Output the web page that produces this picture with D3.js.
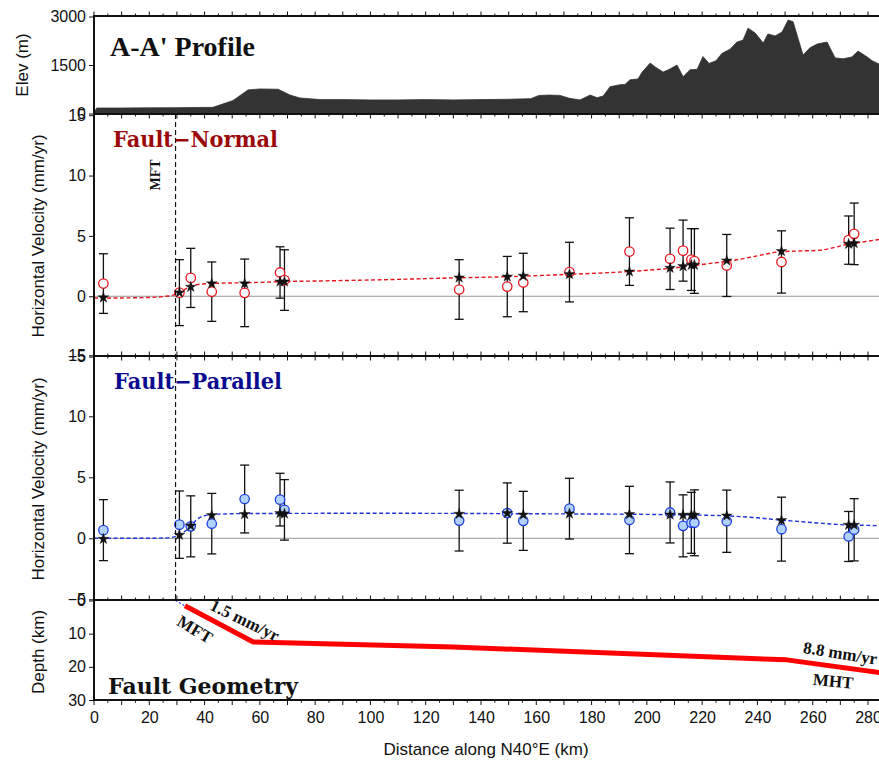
<!DOCTYPE html>
<html>
<head>
<meta charset="utf-8">
<script src="https://cdn.jsdelivr.net/npm/d3@7/dist/d3.min.js"></script>
<style>
  html, body { margin: 0; padding: 0; background: #fff; }
  svg { display: block; }
</style>
</head>
<body>
<svg id="chart" width="879" height="762"></svg>
<script>
// ---- Topography along the profile (km, m) ----
const elevDist = [0, 1, 10, 20, 30, 43, 50.3, 55.7, 60, 66.6, 70.9, 74.5, 81.8, 90, 100, 110, 120, 130, 140, 150, 158, 161, 165, 168.6, 172, 175.8, 179.5, 182, 184.2, 186.7, 190.3, 192.1, 193.9, 196.8, 198.3, 201.2, 203, 205.9, 208.4, 210.9, 213.1, 215.6, 218.2, 220.3, 222.5, 225, 227.2, 230.1, 232.6, 234.8, 236.6, 239.2, 242.1, 243.8, 246.4, 248.9, 251.1, 252.9, 256.5, 259, 261.6, 265.2, 268.1, 271, 274.2, 276.4, 279.7, 281.5, 284, 290];
const elevHeight = [40, 170, 170, 175, 180, 190, 400, 730, 760, 750, 570, 480, 430, 430, 420, 420, 430, 420, 430, 440, 460, 560, 570, 560, 470, 420, 570, 490, 540, 830, 890, 900, 1040, 1070, 1280, 1560, 1440, 1280, 1380, 1500, 1140, 1350, 1370, 1760, 1550, 1630, 1860, 1990, 2210, 2270, 2640, 2490, 2180, 2460, 2400, 2520, 2890, 2840, 1810, 2030, 2150, 2210, 1720, 1690, 1750, 1930, 1750, 1630, 1530, 1480];

// ---- GPS stations projected on the profile ----
const stationDist = [3.4, 30.9, 35.0, 42.6, 54.5, 67.3, 68.9, 132.1, 149.5, 155.3, 172.0, 193.7, 208.4, 213.1, 216.1, 217.2, 228.9, 248.7, 273.0, 275.0];

// Fault-normal component (mm/yr): observed, 1-sigma error, model prediction
const normalObs   = [1.05, 0.30, 1.52, 0.38, 0.28, 1.97, 1.34, 0.56, 0.80, 1.14, 2.00, 3.70, 3.10, 3.78, 3.04, 2.92, 2.55, 2.84, 4.65, 5.17];
const normalErr   = [2.47, 2.73, 2.45, 2.46, 2.80, 2.13, 2.51, 2.47, 2.50, 2.42, 2.47, 2.80, 2.54, 2.53, 2.56, 2.68, 2.57, 2.58, 2.00, 2.55];
const normalModel = [-0.11, 0.30, 0.77, 1.05, 1.05, 1.21, 1.21, 1.54, 1.62, 1.68, 1.82, 2.04, 2.34, 2.48, 2.59, 2.59, 2.95, 3.73, 4.33, 4.39];

// Fault-parallel component (mm/yr)
const parallelObs   = [0.67, 1.12, 0.98, 1.20, 3.22, 3.17, 2.33, 1.45, 2.07, 1.43, 2.43, 1.50, 2.12, 1.02, 1.27, 1.27, 1.40, 0.75, 0.15, 0.70];
const parallelErr   = [2.50, 2.76, 2.50, 2.48, 2.78, 2.16, 2.48, 2.49, 2.47, 2.42, 2.49, 2.76, 2.50, 2.54, 2.50, 2.70, 2.55, 2.62, 2.05, 2.55];
const parallelModel = [-0.06, 0.27, 1.03, 1.88, 1.97, 2.05, 2.02, 1.99, 2.05, 1.93, 2.02, 1.97, 1.93, 1.91, 1.91, 1.91, 1.85, 1.48, 1.09, 1.09];

// Continuous model profiles
const curveDist     = [0, 10, 20, 26, 29, 31, 33, 35, 37, 40, 45, 55, 70, 90, 110, 130, 150, 170, 190, 200, 210, 217, 225, 232, 240, 248, 255, 262, 268, 273, 276, 284, 290];
const curveNormal   = [-0.15, -0.14, -0.10, 0.0, 0.12, 0.35, 0.60, 0.80, 0.95, 1.03, 1.08, 1.12, 1.22, 1.30, 1.40, 1.52, 1.62, 1.80, 2.00, 2.15, 2.35, 2.55, 2.78, 3.00, 3.35, 3.68, 3.75, 3.80, 4.05, 4.33, 4.42, 4.70, 4.85];
const curveParallel = [0.0, 0.0, 0.0, 0.03, 0.12, 0.30, 0.60, 1.00, 1.50, 1.85, 1.98, 2.03, 2.04, 2.05, 2.05, 2.04, 2.02, 2.00, 1.98, 1.96, 1.93, 1.91, 1.87, 1.80, 1.68, 1.50, 1.38, 1.25, 1.15, 1.09, 1.08, 1.03, 1.00];

// Fault geometry (km along profile, depth km)
const faultDist  = [32.9, 57.6, 130, 250.6, 295];
const faultDepth = [1.6, 12.5, 14.0, 17.9, 23.0];
const faultTipDist  = [29.5, 32.9];
const faultTipDepth = [0.0, 1.6];

const mftDist = 29.5;
const xTicks = [0, 20, 40, 60, 80, 100, 120, 140, 160, 180, 200, 220, 240, 260, 280];
const elevTicks = [0, 1500, 3000];
const velTicks = [-5, 0, 5, 10, 15];
const depthTicks = [0, 10, 20, 30];

// ---- Layout ----
const W = 879, H = 762;
const left = 94, right = 879;
const svg = d3.select("#chart");
svg.append("rect").attr("width", W).attr("height", H).attr("fill", "#fff");

const x = d3.scaleLinear().domain([0, 280]).range([left, 868]);
const yElev = d3.scaleLinear().domain([0, 3000]).range([113.5, 16.5]);
const yNorm = d3.scaleLinear().domain([-5, 15]).range([356.6, 115.2]);
const yPar  = d3.scaleLinear().domain([-5, 15]).range([599.3, 355.3]);
const yDep  = d3.scaleLinear().domain([0, 30]).range([600.5, 700]);

const sansFont = "'Liberation Sans', Arial, sans-serif";
const serifFont = "'Liberation Serif', 'Times New Roman', serif";
const wideSerif = "'DejaVu Serif', serif";

svg.append("defs").append("clipPath").attr("id", "plotClip")
  .append("rect").attr("x", left).attr("y", 0).attr("width", right - left).attr("height", H);

const plot = svg.append("g").attr("clip-path", "url(#plotClip)");

// ---- Topography ----
const elevPts = elevDist.map((d, i) => [d, elevHeight[i]]);
plot.append("path")
  .datum(elevPts)
  .attr("fill", "#333")
  .attr("stroke", "#333")
  .attr("stroke-width", 0.8)
  .attr("d", d3.area().x(d => x(d[0])).y0(yElev(0)).y1(d => yElev(d[1])));

// ---- Velocity panels ----
function velocityPanel(y, obs, err, model, curve, lineColor, circleFill, circleStroke) {
  const g = plot.append("g");
  // zero line
  g.append("line").attr("x1", left).attr("x2", right)
    .attr("y1", y(0)).attr("y2", y(0))
    .attr("stroke", "#8a8a8a").attr("stroke-width", 0.9);
  // model curve
  const pts = curveDist.map((d, i) => [d, curve[i]]);
  g.append("path").datum(pts)
    .attr("fill", "none").attr("stroke", lineColor)
    .attr("stroke-width", 1.4).attr("stroke-dasharray", "4,2.5")
    .attr("d", d3.line().curve(d3.curveMonotoneX).x(d => x(d[0])).y(d => y(d[1])));
  // error bars
  const st = stationDist.map((d, i) => ({ d, o: obs[i], e: err[i], m: model[i] }));
  const eb = g.append("g").attr("stroke", "#111").attr("stroke-width", 1.3).attr("fill", "none");
  st.forEach(s => {
    const cx = x(s.d), yt = y(s.o + s.e), yb = y(s.o - s.e);
    eb.append("line").attr("x1", cx).attr("x2", cx).attr("y1", yt).attr("y2", yb);
    eb.append("line").attr("x1", cx - 4.5).attr("x2", cx + 4.5).attr("y1", yt).attr("y2", yt);
    eb.append("line").attr("x1", cx - 4.5).attr("x2", cx + 4.5).attr("y1", yb).attr("y2", yb);
  });
  // observed
  g.append("g").selectAll("circle").data(st).join("circle")
    .attr("cx", s => x(s.d)).attr("cy", s => y(s.o)).attr("r", 4.7)
    .attr("fill", circleFill).attr("stroke", circleStroke).attr("stroke-width", 1.3);
  // modelled
  const star = d3.symbol().type(d3.symbolStar).size(36);
  g.append("g").selectAll("path").data(st).join("path")
    .attr("transform", s => `translate(${x(s.d)},${y(s.m)})`)
    .attr("d", star).attr("fill", "#111").attr("stroke", "#111").attr("stroke-width", 0.4);
}
velocityPanel(yNorm, normalObs, normalErr, normalModel, curveNormal, "#e8141b", "#fff", "#e8141b");
velocityPanel(yPar, parallelObs, parallelErr, parallelModel, curveParallel, "#2233d8", "#b0d2fd", "#1f3fe0");

// ---- MFT surface trace ----
svg.append("line")
  .attr("x1", x(mftDist)).attr("x2", x(mftDist))
  .attr("y1", 114).attr("y2", 601)
  .attr("stroke", "#111").attr("stroke-width", 1.2).attr("stroke-dasharray", "5,3");
svg.append("text")
  .attr("transform", `translate(${x(mftDist) - 16},175) rotate(-90)`)
  .attr("text-anchor", "middle").attr("font-family", serifFont)
  .attr("font-weight", "bold").attr("font-size", 14).attr("fill", "#111")
  .text("MFT");

// ---- Fault geometry ----
const tipPts = faultTipDist.map((d, i) => [d, faultTipDepth[i]]);
plot.append("path").datum(tipPts)
  .attr("fill", "none").attr("stroke", "#2233d8").attr("stroke-width", 1.2).attr("stroke-dasharray", "2,2")
  .attr("d", d3.line().x(d => x(d[0])).y(d => yDep(d[1])));
const faultPts = faultDist.map((d, i) => [d, faultDepth[i]]);
plot.append("path").datum(faultPts)
  .attr("fill", "none").attr("stroke", "#ff0000").attr("stroke-width", 5)
  .attr("stroke-linejoin", "round")
  .attr("d", d3.line().x(d => x(d[0])).y(d => yDep(d[1])));

function faultLabel(txt, cx, cy, ang, size) {
  svg.append("text")
    .attr("transform", `translate(${cx},${cy}) rotate(${ang})`)
    .attr("text-anchor", "middle").attr("dominant-baseline", "middle")
    .attr("font-family", serifFont).attr("font-weight", "bold")
    .attr("font-size", size).attr("fill", "#111").text(txt);
}
faultLabel("1.5 mm/yr", 244, 622, 26, 17);
faultLabel("MFT", 194, 631, 31, 17);
faultLabel("8.8 mm/yr", 840, 655, 9, 17);
faultLabel("MHT", 833, 683, 5, 17);

// ---- Frame ----
const frame = svg.append("g").attr("stroke", "#111").attr("fill", "none");
frame.append("line").attr("x1", left).attr("x2", left).attr("y1", 15).attr("y2", 701).attr("stroke-width", 2);
[16, 114, 356, 600, 700].forEach(yy => {
  frame.append("line").attr("x1", left).attr("x2", right).attr("y1", yy).attr("y2", yy)
    .attr("stroke-width", 2);
});

// x ticks: major every 10 km, minor every 5 km
const majorX = d3.range(0, 290, 10);
const minorX = d3.range(5, 290, 10);
function xTickRow(yy, up, down) {
  majorX.forEach(v => frame.append("line").attr("x1", x(v)).attr("x2", x(v))
    .attr("y1", yy - up).attr("y2", yy + down).attr("stroke-width", 1));
  minorX.forEach(v => frame.append("line").attr("x1", x(v)).attr("x2", x(v))
    .attr("y1", yy - up * 0.55).attr("y2", yy + down * 0.55).attr("stroke-width", 1));
}
xTickRow(16, 4.5, 0);
xTickRow(114, 0, 4.5);
xTickRow(356, 4.5, 4.5);
xTickRow(600, 4.5, 0);
xTickRow(700, 0, 5);

// ---- Y axes ----
function yAxis(scale, ticks) {
  const g = svg.append("g").attr("transform", `translate(${left},0)`)
    .call(d3.axisLeft(scale).tickValues(ticks).tickSize(5).tickPadding(3).tickFormat(d3.format("d")));
  g.select(".domain").remove();
  g.selectAll(".tick line").attr("stroke", "#111").attr("stroke-width", 1);
  g.selectAll(".tick text").attr("font-family", sansFont).attr("font-size", 16).attr("fill", "#111");
  return g;
}
yAxis(yElev, elevTicks);
yAxis(yNorm, velTicks);
yAxis(yPar, velTicks);
yAxis(yDep, depthTicks);

// x tick labels
const xa = svg.append("g").attr("transform", "translate(0,700)")
  .call(d3.axisBottom(x).tickValues(xTicks).tickSize(0).tickPadding(12));
xa.select(".domain").remove();
xa.selectAll(".tick text").attr("font-family", sansFont).attr("font-size", 16).attr("fill", "#111");

// ---- Axis titles ----
svg.append("text").attr("x", 486).attr("y", 755).attr("text-anchor", "middle")
  .attr("font-family", sansFont).attr("font-size", 17).attr("fill", "#111")
  .text("Distance along N40°E (km)");
function yTitle(txt, cx, cy) {
  svg.append("text").attr("transform", `translate(${cx},${cy}) rotate(-90)`)
    .attr("text-anchor", "middle").attr("dominant-baseline", "middle")
    .attr("font-family", sansFont).attr("font-size", 17).attr("fill", "#111").text(txt);
}
yTitle("Elev (m)", 24, 65);
yTitle("Horizontal Velocity (mm/yr)", 40, 236);
yTitle("Horizontal Velocity (mm/yr)", 40, 479);
yTitle("Depth (km)", 40, 652);

// ---- Panel titles ----
svg.append("text").attr("x", 110).attr("y", 56)
  .attr("font-family", serifFont).attr("font-weight", "bold").attr("font-size", 28).attr("fill", "#111")
  .text("A-A' Profile");
function panelTitle(txt, xx, yy, len, color) {
  svg.append("text").attr("x", xx).attr("y", yy)
    .attr("font-family", wideSerif).attr("font-weight", "bold").attr("font-size", 21.5)
    .attr("textLength", len).attr("lengthAdjust", "spacingAndGlyphs")
    .attr("fill", color).text(txt);
}
panelTitle("Fault\u2212Normal", 113, 147, 165, "#9b0a0a");
panelTitle("Fault\u2212Parallel", 114, 389, 168, "#0a0a8f");
panelTitle("Fault Geometry", 108, 694, 190, "#111");
</script>
</body>
</html>
